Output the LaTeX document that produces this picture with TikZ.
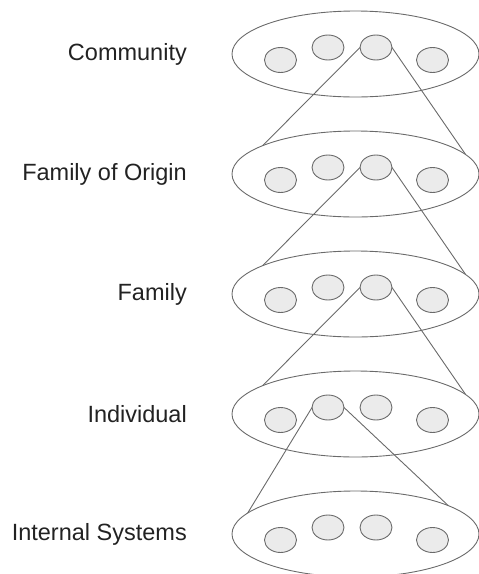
\documentclass[tikz,border=0pt]{standalone}
\usepackage{fontspec}
\setmainfont{Liberation Sans}
\usetikzlibrary{shapes.geometric}
\definecolor{linegray}{HTML}{6A6A6A}
\definecolor{dotfill}{HTML}{EBEBEB}
\definecolor{textgray}{HTML}{222222}
\begin{document}
\begin{tikzpicture}[x=1pt,y=-1pt,
  layer/.style={ellipse,draw=linegray,line width=0.9pt,inner sep=0pt,outer sep=0pt,minimum width=247pt,minimum height=86pt},
  dot/.style={ellipse,draw=linegray,fill=dotfill,line width=0.9pt,inner sep=0pt,outer sep=0pt,minimum width=32pt,minimum height=25pt},
  lbl/.style={anchor=east,inner sep=0pt,text=textgray,font=\fontsize{23.5}{28}\selectfont},
  link/.style={draw=linegray,line width=0.9pt}]
\useasboundingbox (0,0) rectangle (479,574);
\foreach \i/\y/\t in {1/54/Community,2/174/Family of Origin,3/294/Family,4/414/Individual,5/534/Internal Systems}{
  \node[layer] (E\i) at (355.5,\y) {};
  \node[dot] (c\i1) at (280.5,\y+6) {};
  \node[dot] (c\i2) at (328,\y-6.5) {};
  \node[dot] (c\i3) at (376,\y-6.5) {};
  \node[dot] (c\i4) at (432.5,\y+6) {};
  \node[lbl] (L\i) at (187,\y) {\t};
}
\draw[link] (c13.west) -- (E2.163.7);
\draw[link] (c13.east) -- (E2.10.7);
\draw[link] (c23.west) -- (E3.163.7);
\draw[link] (c23.east) -- (E3.10.7);
\draw[link] (c33.west) -- (E4.163.7);
\draw[link] (c33.east) -- (E4.10.7);
\draw[link] (c42.west) -- (E5.169.2);
\draw[link] (c42.east) -- (E5.17.6);
\end{tikzpicture}
\end{document}
